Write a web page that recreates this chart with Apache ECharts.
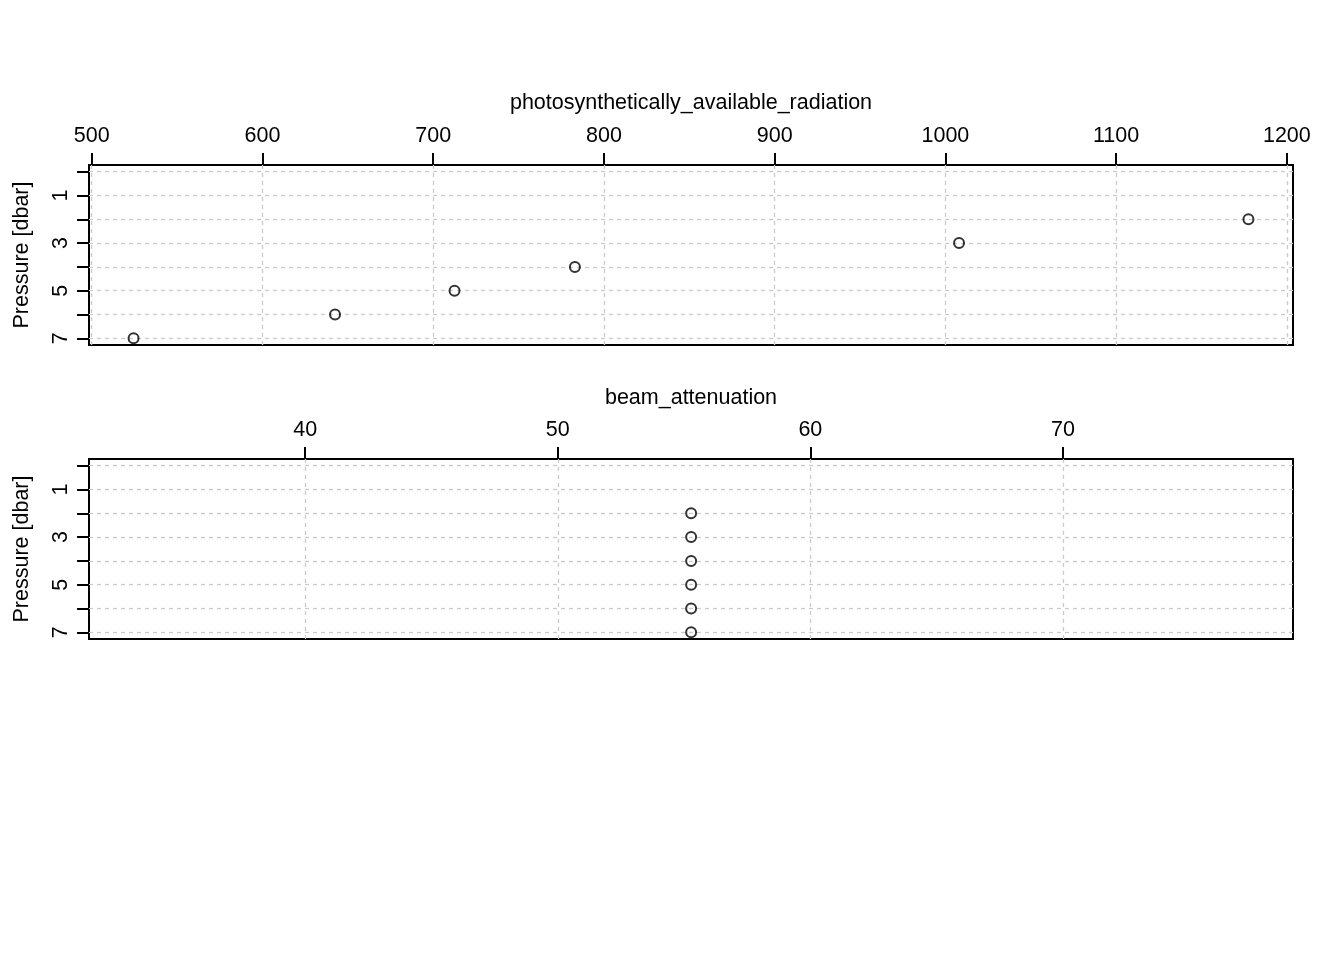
<!DOCTYPE html>
<html>
<head>
<meta charset="utf-8">
<script src="https://cdn.jsdelivr.net/npm/echarts@6/dist/echarts.min.js"></script>
<style>
html,body{margin:0;padding:0;background:#fff;}
#chart{width:1344px;height:960px;}
</style>
</head>
<body>
<div id="chart"></div>
<script>
// ---- data ----
const parValues = [1177.5, 1008, 783, 712.5, 642.5, 524.5];
const parPressure = [2, 3, 4, 5, 6, 7];
const beamValues = [55.28, 55.28, 55.28, 55.28, 55.28, 55.28];
const beamPressure = [2, 3, 4, 5, 6, 7];

const parTicks = [500, 600, 700, 800, 900, 1000, 1100, 1200];
const beamTicks = [40, 50, 60, 70];
const pressureTicks = [0, 1, 2, 3, 4, 5, 6, 7];
const pressureLabels = [1, 3, 5, 7];

const parRange = [498.4, 1203.6];
const beamRange = [31.44, 79.11];
const pressureRange = [-0.28, 7.28];

const titles = ['photosynthetically_available_radiation', 'beam_attenuation'];
const yName = 'Pressure [dbar]';

const FONT = "'Liberation Sans', Arial, sans-serif";
const FS = 21.5;
const grid = {color: '#cbcbcb', width: 1.3, type: [4, 4]};

function xAxisDef(gridIndex, range, ticks) {
  return {
    type: 'value', gridIndex, position: 'top',
    min: range[0], max: range[1],
    axisLine: {show: false, onZero: false},
    axisTick: {show: true, inside: false, length: 12, customValues: ticks, lineStyle: {color: '#000', width: 2}},
    axisLabel: {show: true, customValues: ticks, margin: 18, color: '#000', fontFamily: FONT, fontSize: FS,
      formatter: v => String(v)},
    splitLine: {show: true, lineStyle: grid}
  };
}
function yAxisDef(gridIndex) {
  return {
    type: 'value', gridIndex, inverse: true,
    min: pressureRange[0], max: pressureRange[1],
    name: yName, nameLocation: 'middle', nameRotate: 90, nameGap: 56,
    nameTextStyle: {color: '#000', fontFamily: FONT, fontSize: FS},
    axisLine: {show: false, onZero: false},
    axisTick: {show: true, inside: false, length: 12, customValues: pressureTicks, lineStyle: {color: '#000', width: 2}},
    axisLabel: {show: true, customValues: pressureLabels, rotate: 90, margin: 17, color: '#000', fontFamily: FONT, fontSize: FS,
      formatter: v => String(v)},
    splitLine: {show: true, lineStyle: grid}
  };
}
function toPairs(xs, ys) { return xs.map((v, i) => [v, ys[i]]); }

const chart = echarts.init(document.getElementById('chart'), null, {renderer: 'canvas'});
chart.setOption({
  backgroundColor: '#fff',
  animation: false,
  title: [
    {text: titles[0], left: 691, top: 92, padding: 0, textAlign: 'center', textStyle: {color: '#000', fontWeight: 'normal', fontFamily: FONT, fontSize: FS}},
    {text: titles[1], left: 691, top: 387, padding: 0, textAlign: 'center', textStyle: {color: '#000', fontWeight: 'normal', fontFamily: FONT, fontSize: FS}}
  ],
  grid: [
    {left: 89, right: 51, top: 165, height: 180, show: true, borderColor: '#000', borderWidth: 2, backgroundColor: 'transparent', containLabel: false},
    {left: 89, right: 51, top: 459, height: 180, show: true, borderColor: '#000', borderWidth: 2, backgroundColor: 'transparent', containLabel: false}
  ],
  xAxis: [xAxisDef(0, parRange, parTicks), xAxisDef(1, beamRange, beamTicks)],
  yAxis: [yAxisDef(0), yAxisDef(1)],
  series: [
    {type: 'scatter', xAxisIndex: 0, yAxisIndex: 0, data: toPairs(parValues, parPressure),
     symbol: 'circle', symbolSize: 10, itemStyle: {color: 'transparent', borderColor: '#000', borderWidth: 2}},
    {type: 'scatter', xAxisIndex: 1, yAxisIndex: 1, data: toPairs(beamValues, beamPressure),
     symbol: 'circle', symbolSize: 10, itemStyle: {color: 'transparent', borderColor: '#000', borderWidth: 2}}
  ]
});
</script>
</body>
</html>
